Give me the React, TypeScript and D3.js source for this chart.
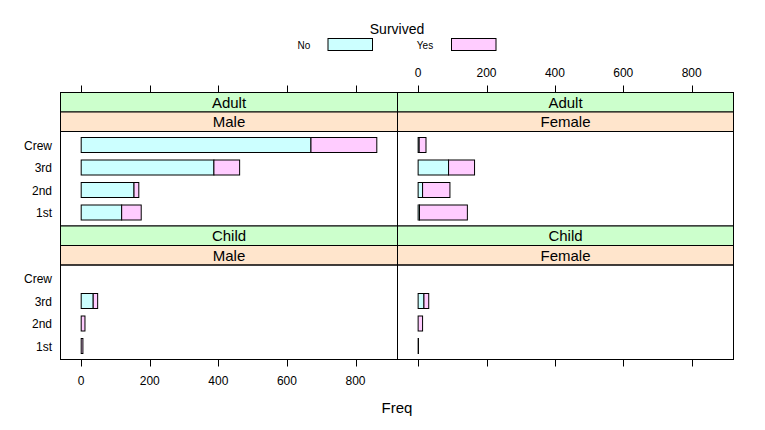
import React from "react";
import * as d3 from "d3";

const classes = ["1st", "2nd", "3rd", "Crew"];
const survivedLevels = ["No", "Yes"];
// values ordered by classes
const adultMaleNo = [118, 154, 387, 670];
const adultMaleYes = [57, 14, 75, 192];
const adultFemaleNo = [4, 13, 89, 3];
const adultFemaleYes = [140, 80, 76, 20];
const childMaleNo = [0, 0, 35, 0];
const childMaleYes = [5, 11, 13, 0];
const childFemaleNo = [0, 0, 17, 0];
const childFemaleYes = [1, 13, 14, 0];
const xTicks = [0, 200, 400, 600, 800];

const fillNo = "#CCFFFF";
const fillYes = "#FFCCFF";
const stripAge = "#CCFFCC";
const stripSex = "#FFE5CC";
const font = "'Liberation Sans', Arial, sans-serif";

const panels = [
  { age: "Adult", sex: "Male", no: adultMaleNo, yes: adultMaleYes, col: 0, row: 0 },
  { age: "Adult", sex: "Female", no: adultFemaleNo, yes: adultFemaleYes, col: 1, row: 0 },
  { age: "Child", sex: "Male", no: childMaleNo, yes: childMaleYes, col: 0, row: 1 },
  { age: "Child", sex: "Female", no: childFemaleNo, yes: childFemaleYes, col: 1, row: 1 },
];

export default function App() {
  const W = 765, H = 430;
  const colX = [60.5, 397.5, 733.5];
  const stripH = 19.5;
  const rowTop = [92.5, 226];
  const panelBottom = [226, 359.5];

  const maxTotal = d3.max(panels.flatMap((p) => p.no.map((v, i) => v + p.yes[i]))) as number;
  const ext = maxTotal * 0.07;
  const xDomain: [number, number] = [-ext, maxTotal + ext];

  const xScale = (col: number) => d3.scaleLinear().domain(xDomain).range([colX[col], colX[col + 1]]);

  return (
    <svg width={W} height={H} style={{ position: "absolute", left: 0, top: 0, background: "white" }}
      fontFamily={font}>
      {/* legend */}
      <text x={397} y={34} fontSize={14} textAnchor="middle">Survived</text>
      {survivedLevels.map((s, i) => {
        const bx = i === 0 ? 328 : 451.5;
        const tx = i === 0 ? 304 : 425;
        return (
          <g key={s}>
            <text x={tx} y={48.5} fontSize={10} textAnchor="middle">{s}</text>
            <rect x={bx} y={38.5} width={44.5} height={12} fill={i === 0 ? fillNo : fillYes} stroke="black" strokeWidth={1} />
          </g>
        );
      })}

      {panels.map((p, pi) => {
        const xs = xScale(p.col);
        const top = rowTop[p.row];
        const pTop = top + 2 * stripH;
        const pBot = panelBottom[p.row];
        const ys = d3.scaleLinear().domain([0.4, classes.length + 0.6]).range([pBot, pTop]);
        const barH = (ys(0) - ys(1)) * (2 / 3);
        const x0 = colX[p.col], x1 = colX[p.col + 1];
        return (
          <g key={pi}>
            <rect x={x0} y={top} width={x1 - x0} height={stripH} fill={stripAge} stroke="black" />
            <rect x={x0} y={top + stripH} width={x1 - x0} height={stripH} fill={stripSex} stroke="black" />
            <text x={(x0 + x1) / 2} y={top + stripH / 2 + 5.5} fontSize={15} textAnchor="middle">{p.age}</text>
            <text x={(x0 + x1) / 2} y={top + stripH * 1.5 + 5.5} fontSize={15} textAnchor="middle">{p.sex}</text>
            {classes.map((c, i) => {
              const n = p.no[i], y = p.yes[i];
              if (n + y === 0) return null;
              const cy = ys(i + 1);
              return (
                <g key={c}>
                  <rect x={xs(0)} y={cy - barH / 2} width={xs(n) - xs(0)} height={barH} fill={fillNo} stroke="black" strokeWidth={1} />
                  <rect x={xs(n)} y={cy - barH / 2} width={xs(n + y) - xs(n)} height={barH} fill={fillYes} stroke="black" strokeWidth={1} />
                </g>
              );
            })}
            <rect x={x0} y={pTop} width={x1 - x0} height={pBot - pTop} fill="none" stroke="black" />
            {p.col === 0 && classes.map((c, i) => (
              <text key={c} x={52} y={ys(i + 1) + 4.5} fontSize={12} textAnchor="end">{c}</text>
            ))}
            {p.row === 0 && xTicks.map((t) => (
              <g key={t}>
                <line x1={Math.round(xs(t)) + 0.5} x2={Math.round(xs(t)) + 0.5} y1={top} y2={top - 7} stroke="black" />
                {p.col === 1 && <text x={xs(t)} y={77} fontSize={12} textAnchor="middle">{t}</text>}
              </g>
            ))}
            {p.row === 1 && xTicks.map((t) => (
              <g key={t}>
                <line x1={Math.round(xs(t)) + 0.5} x2={Math.round(xs(t)) + 0.5} y1={pBot} y2={pBot + 7} stroke="black" />
                {p.col === 0 && <text x={xs(t)} y={385} fontSize={12} textAnchor="middle">{t}</text>}
              </g>
            ))}
          </g>
        );
      })}
      <text x={397} y={413} fontSize={15} textAnchor="middle">Freq</text>
    </svg>
  );
}
